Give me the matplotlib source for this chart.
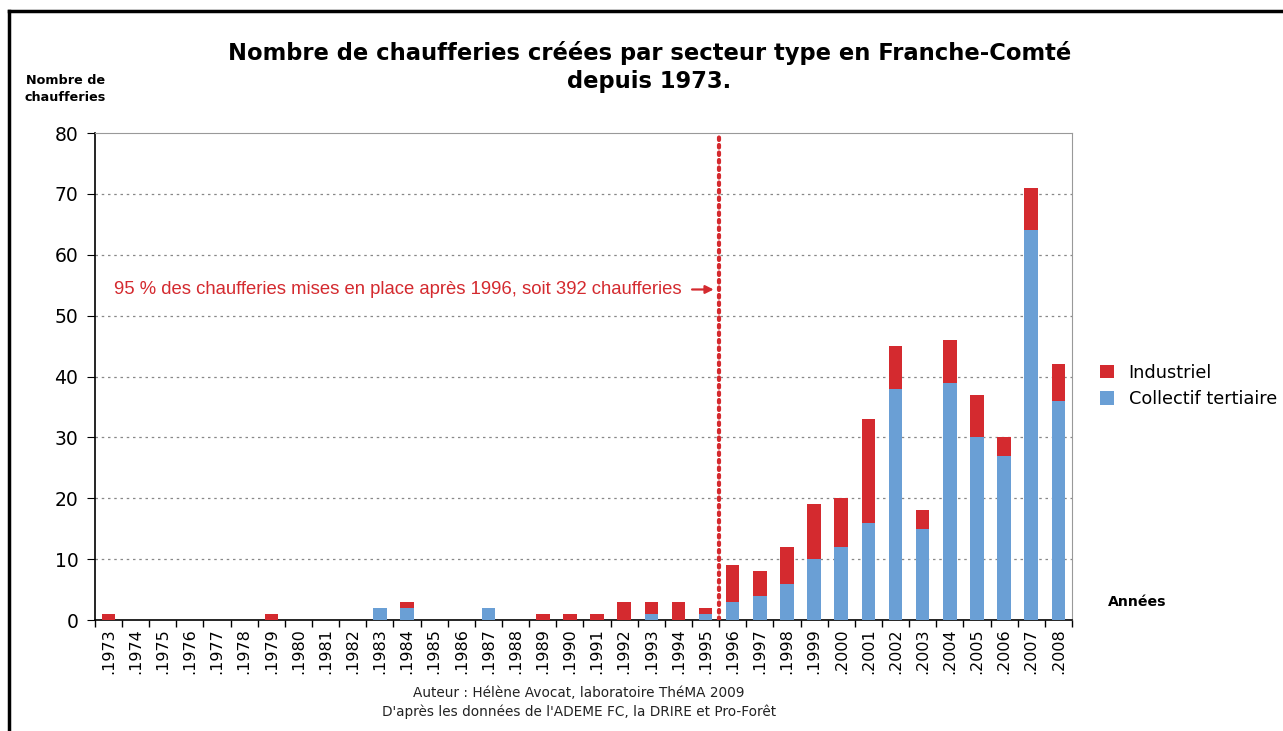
import matplotlib
matplotlib.use("Agg")
import matplotlib.pyplot as plt
import numpy as np
from matplotlib.lines import Line2D
from matplotlib.patches import Patch

years = list(range(1973, 2009))
collectif = [0, 0, 0, 0, 0, 0, 0, 0, 0, 0, 2, 2, 0, 0, 2, 0, 0, 0, 0, 0, 1, 0, 1,
             3, 4, 6, 10, 12, 16, 38, 15, 39, 30, 27, 64, 36]
industriel = [1, 0, 0, 0, 0, 0, 1, 0, 0, 0, 0, 1, 0, 0, 0, 0, 1, 1, 1, 3, 2, 3, 1,
              6, 4, 6, 9, 8, 17, 7, 3, 7, 7, 3, 7, 6]
tick_labels = ["." + str(y) for y in years]
series_names = ["Industriel", "Collectif tertiaire"]
red = "#d42a2f"
blue = "#6a9fd5"

fig = plt.figure(figsize=(12.83, 7.31), dpi=100)
ax = fig.add_axes([0.074, 0.1518, 0.7615, 0.6662])

x = np.arange(len(years))
ax.bar(x, collectif, width=0.5, color=blue, zorder=3)
ax.bar(x, industriel, bottom=collectif, width=0.5, color=red, zorder=3)

ax.set_xlim(-0.5, len(years) - 0.5)
ax.set_ylim(0, 80)
ax.set_yticks(range(0, 81, 10))
ax.tick_params(axis="y", labelsize=13.5, length=6, direction="out", pad=6)
for v in range(10, 80, 10):
    ax.axhline(v, color="#888888", lw=0.9, ls=(0, (2, 3)), zorder=1)

ax.set_xticks(x)
ax.set_xticklabels(tick_labels, rotation=90, fontsize=11.5)
ax.tick_params(axis="x", which="major", length=0, pad=6)
ax.set_xticks(np.arange(-0.5, len(years), 1), minor=True)
ax.tick_params(axis="x", which="minor", length=5, direction="out", width=1)

for s in ["top", "right"]:
    ax.spines[s].set_color("#999999")
    ax.spines[s].set_linewidth(0.8)
for s in ["left", "bottom"]:
    ax.spines[s].set_color("black")
    ax.spines[s].set_linewidth(1.2)

# dotted separation line between 1995 and 1996
ax.axvline(22.5, color=red, lw=3, ls=(0, (0.6, 1.2)), dash_capstyle="round", zorder=4)
ax.annotate("", xy=(22.4, 54.3), xytext=(21.4, 54.3),
            arrowprops=dict(arrowstyle="-|>", color=red, lw=1.6, mutation_scale=12))
ax.text(21.1, 54.3, "95 % des chaufferies mises en place après 1996, soit 392 chaufferies",
        color=red, fontsize=13.3, family="Liberation Sans", ha="right", va="center")

fig.text(0.506, 0.908, "Nombre de chaufferies créées par secteur type en Franche-Comté\ndepuis 1973.",
         ha="center", va="center", fontsize=16.3, fontweight="bold", linespacing=1.3)
fig.text(0.051, 0.878, "Nombre de\nchaufferies", ha="center", va="center",
         fontsize=9.2, fontweight="bold", linespacing=1.35)
fig.text(0.8636, 0.176, "Années", ha="left", va="center", fontsize=10.2, fontweight="bold")
fig.text(0.451, 0.039, "Auteur : Hélène Avocat, laboratoire ThéMA 2009\nD'après les données de l'ADEME FC, la DRIRE et Pro-Forêt",
         ha="center", va="center", fontsize=9.8, linespacing=1.45, color="#222222")

handles = [Patch(facecolor=red), Patch(facecolor=blue)]
fig.legend(handles, series_names, loc="center left", bbox_to_anchor=(0.845, 0.472),
           frameon=False, fontsize=12.8, handlelength=0.8, handleheight=0.8,
           handletextpad=0.8, labelspacing=0.5)

# figure border
fig.add_artist(Line2D([0.007, 0.007], [0.0, 0.985], transform=fig.transFigure, color="black", lw=2.5))
fig.add_artist(Line2D([0.007, 1.0], [0.985, 0.985], transform=fig.transFigure, color="black", lw=2.5))

fig.savefig("out.png", dpi=100)
